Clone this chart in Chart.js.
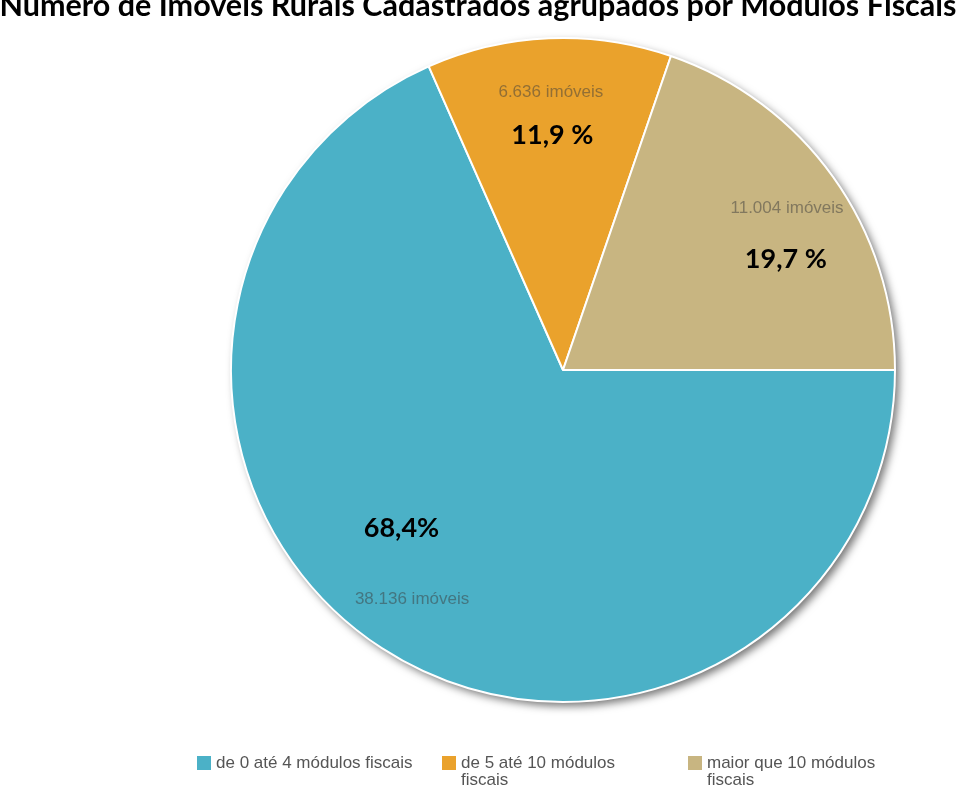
<!DOCTYPE html>
<html>
<head>
<meta charset="utf-8">
<script src="https://cdn.jsdelivr.net/npm/chart.js@4"></script>
<style>
  html, body { margin: 0; padding: 0; background: #fff; overflow: hidden; }
  #wrap { position: relative; width: 960px; height: 791px; }
  #legend { position: absolute; left: 0; top: 0; width: 960px; height: 791px; pointer-events: none;
    font-family: "Liberation Sans", Arial, sans-serif; font-size: 17px; color: #555; }
  .item { position: absolute; top: 754px; }
  .box { position: absolute; left: 0; top: 2px; width: 14px; height: 14px; }
  .txt { position: absolute; left: 19px; top: 0; line-height: 17px; }
</style>
</head>
<body>
<div id="wrap">
  <canvas id="chart" width="960" height="791"></canvas>
  <div id="legend"></div>
</div>
<script>
const title = 'Número de Imóveis Rurais Cadastrados agrupados por Módulos Fiscais';
const categories = ['de 0 até 4 módulos fiscais', 'de 5 até 10 módulos fiscais', 'maior que 10 módulos fiscais'];
const imoveis = [38136, 6636, 11004];
const pctLabels = ['68,4%', '11,9 %', '19,7 %'];
const colors = ['#4bb1c7', '#eaa22c', '#c8b581'];

// onde ficam os textos dentro de cada fatia (graus a partir do topo, fração do raio)
const countPos = [[213.3, 0.828], [-2.5, 0.837], [54.1, 0.833]];
const pctPos = [[225.6, 0.681], [-2.6, 0.709], [63.5, 0.750]];
const legendX = [197, 442, 688];
const legendW = [230, 190, 190];

function fmt(n) {
  return String(n).replace(/\B(?=(\d{3})+(?!\d))/g, '.');
}

// sombra atrás da pizza
const shadowPlugin = {
  id: 'shadow',
  beforeDatasetsDraw(chart) {
    const arc = chart.getDatasetMeta(0).data[0];
    if (!arc) return;
    const ctx = chart.ctx;
    ctx.save();
    ctx.shadowColor = 'rgba(0,0,0,0.55)';
    ctx.shadowBlur = 8;
    ctx.shadowOffsetX = 4;
    ctx.shadowOffsetY = 4;
    ctx.fillStyle = '#fff';
    ctx.beginPath();
    ctx.arc(arc.x, arc.y, arc.outerRadius, 0, Math.PI * 2);
    ctx.fill();
    ctx.restore();
  }
};

const textPlugin = {
  id: 'texts',
  afterDatasetsDraw(chart) {
    const ctx = chart.ctx;
    const arcs = chart.getDatasetMeta(0).data;
    ctx.save();
    ctx.textAlign = 'center';
    ctx.textBaseline = 'middle';
    arcs.forEach((arc, i) => {
      const r = arc.outerRadius;
      let a = countPos[i][0] * Math.PI / 180;
      ctx.font = '17px "Liberation Sans", Arial, sans-serif';
      ctx.fillStyle = 'rgba(60,60,60,0.5)';
      ctx.fillText(fmt(imoveis[i]) + ' imóveis', arc.x + Math.sin(a) * r * countPos[i][1], arc.y - Math.cos(a) * r * countPos[i][1]);
      a = pctPos[i][0] * Math.PI / 180;
      ctx.font = 'bold 27px Lato, "Open Sans", sans-serif';
      ctx.fillStyle = '#000';
      ctx.fillText(pctLabels[i], arc.x + Math.sin(a) * r * pctPos[i][1], arc.y - Math.cos(a) * r * pctPos[i][1]);
    });
    // título, cortado no topo como no original (letra um pouco estreitada, estilo Calibri)
    ctx.font = 'bold 31px Lato, "Open Sans", sans-serif';
    const w = ctx.measureText(title).width;
    ctx.textBaseline = 'alphabetic';
    ctx.translate(478, 16);
    ctx.scale(957 / w, 1);
    ctx.fillText(title, 0, 0);
    ctx.restore();
  }
};

const ctx = document.getElementById('chart').getContext('2d');
new Chart(ctx, {
  type: 'pie',
  data: {
    labels: categories,
    datasets: [{
      data: imoveis,
      backgroundColor: colors,
      borderColor: '#fff',
      borderWidth: 2
    }]
  },
  options: {
    responsive: false,
    animation: false,
    rotation: 90,
    layout: { padding: { top: 37, left: 230, right: 64, bottom: 88 } },
    plugins: {
      legend: { display: false },
      title: { display: false },
      tooltip: { enabled: false }
    },
    events: []
  },
  plugins: [shadowPlugin, textPlugin]
});

const legend = document.getElementById('legend');
categories.forEach((c, i) => {
  const it = document.createElement('div');
  it.className = 'item';
  it.style.left = legendX[i] + 'px';
  it.innerHTML = '<div class="box" style="background:' + colors[i] + '"></div>' +
    '<div class="txt" style="width:' + legendW[i] + 'px">' + c + '</div>';
  legend.appendChild(it);
});
</script>
</body>
</html>
